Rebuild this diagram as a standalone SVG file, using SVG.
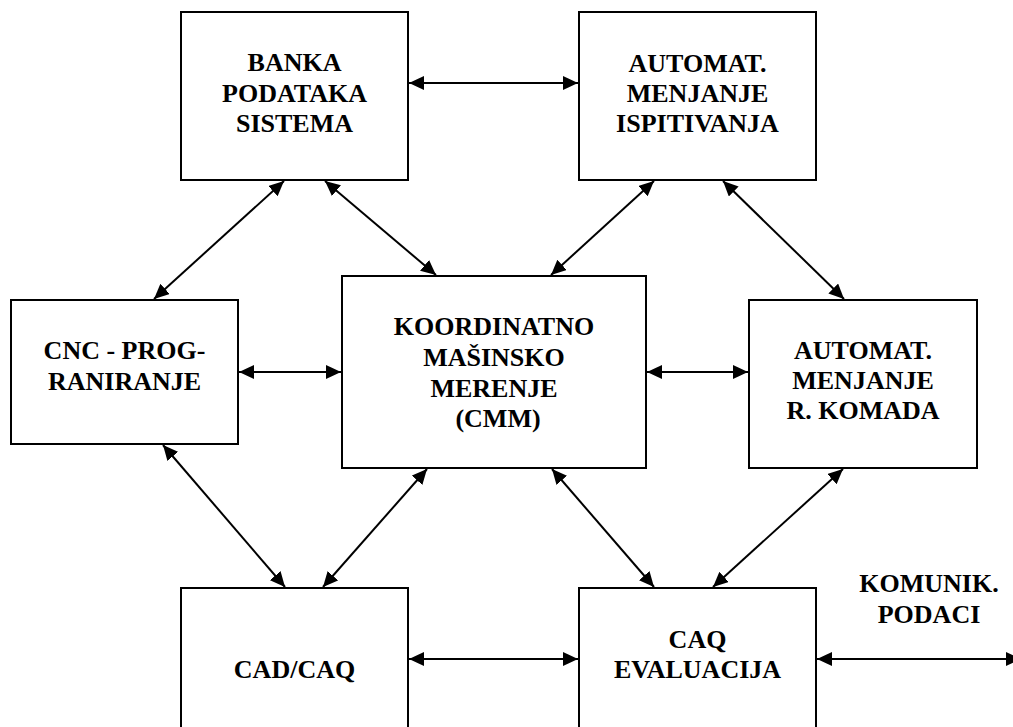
<svg xmlns="http://www.w3.org/2000/svg" width="1013" height="727" viewBox="0 0 1013 727">
<style>
.box{fill:#fff;stroke:#000;stroke-width:2}
.lbl{font-family:"Liberation Serif","Times New Roman",serif;font-weight:bold;font-size:26px;text-anchor:middle;fill:#000}
.con{stroke:#000;stroke-width:2;fill:none;marker-start:url(#ah);marker-end:url(#ah)}
</style>
<defs>
<marker id="ah" markerUnits="userSpaceOnUse" markerWidth="16" markerHeight="14" refX="15" refY="7" orient="auto-start-reverse" viewBox="0 0 16 14">
<path d="M0,0 L15,7 L0,14 Z" fill="#000"/>
</marker>
</defs>
<rect width="1013" height="727" fill="#fff"/>
<g id="connectors">
<line class="con" x1="409" y1="83" x2="578" y2="83"/>
<line class="con" x1="239" y1="372" x2="341" y2="372"/>
<line class="con" x1="647" y1="372" x2="748" y2="372"/>
<line class="con" x1="409" y1="659" x2="578" y2="659"/>
<line class="con" x1="817" y1="659" x2="1021" y2="659"/>
<line class="con" x1="284" y1="181" x2="154" y2="299"/>
<line class="con" x1="325" y1="181" x2="436" y2="275"/>
<line class="con" x1="654" y1="181" x2="551" y2="275"/>
<line class="con" x1="723" y1="181" x2="844" y2="299"/>
<line class="con" x1="163" y1="445" x2="285" y2="587"/>
<line class="con" x1="427" y1="469" x2="323" y2="587"/>
<line class="con" x1="552" y1="469" x2="654" y2="587"/>
<line class="con" x1="843" y1="469" x2="713" y2="587"/>
</g>
<g id="banka">
<rect class="box" x="181" y="12" width="227" height="168"/>
<text class="lbl" x="294.5" y="71">BANKA</text>
<text class="lbl" x="294.5" y="102">PODATAKA</text>
<text class="lbl" x="294.5" y="132">SISTEMA</text>
</g>
<g id="automat-ispitivanja">
<rect class="box" x="579" y="12" width="237" height="168"/>
<text class="lbl" x="697.5" y="72">AUTOMAT.</text>
<text class="lbl" x="697.5" y="102">MENJANJE</text>
<text class="lbl" x="697.5" y="132">ISPITIVANJA</text>
</g>
<g id="cnc">
<rect class="box" x="11" y="300" width="227" height="144"/>
<text class="lbl" x="124.5" y="359">CNC - PROG-</text>
<text class="lbl" x="124.5" y="390">RANIRANJE</text>
</g>
<g id="cmm">
<rect class="box" x="342" y="276" width="304" height="192"/>
<text class="lbl" x="494" y="335">KOORDINATNO</text>
<text class="lbl" x="494" y="366">MAŠINSKO</text>
<text class="lbl" x="494" y="397">MERENJE</text>
<text class="lbl" x="498" y="427">(CMM)</text>
</g>
<g id="automat-komada">
<rect class="box" x="749" y="300" width="228" height="168"/>
<text class="lbl" x="863" y="359">AUTOMAT.</text>
<text class="lbl" x="863" y="389">MENJANJE</text>
<text class="lbl" x="863" y="419">R. KOMADA</text>
</g>
<g id="cadcaq">
<rect class="box" x="181" y="588" width="227" height="150"/>
<text class="lbl" x="294.5" y="678">CAD/CAQ</text>
</g>
<g id="caq-evaluacija">
<rect class="box" x="579" y="588" width="237" height="150"/>
<text class="lbl" x="697.5" y="648">CAQ</text>
<text class="lbl" x="697.5" y="678">EVALUACIJA</text>
</g>
<g id="komunik">
<text class="lbl" x="929" y="592">KOMUNIK.</text>
<text class="lbl" x="929" y="623">PODACI</text>
</g>
</svg>
